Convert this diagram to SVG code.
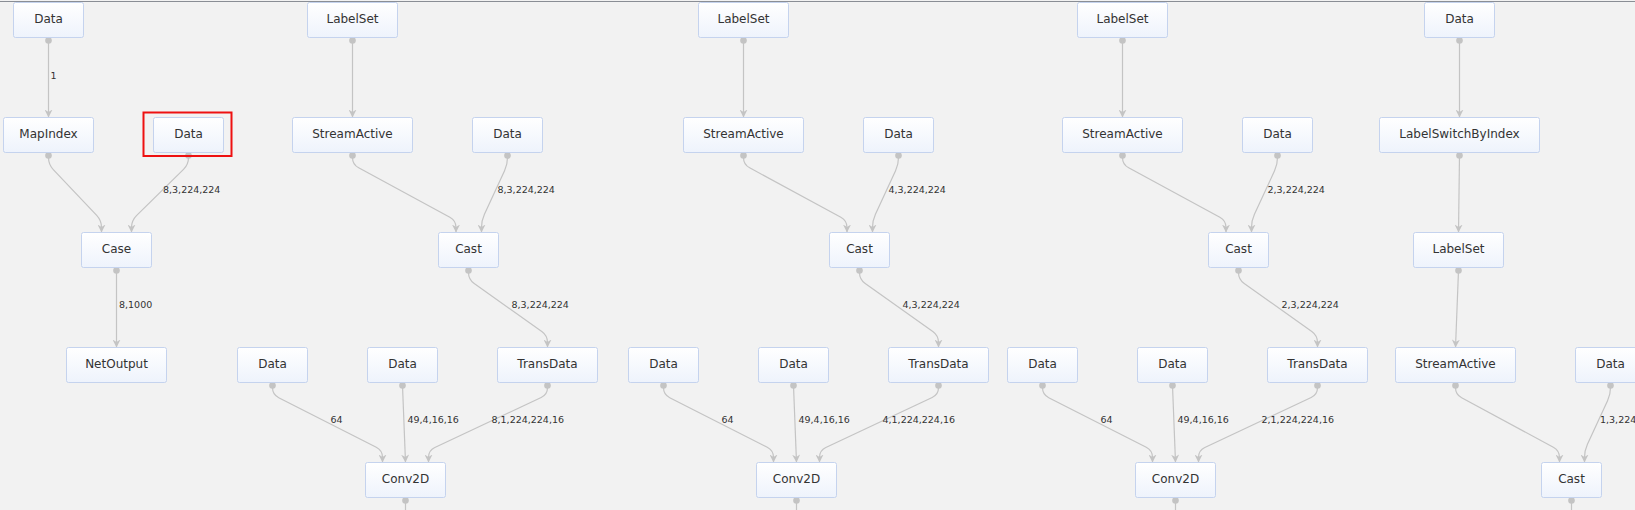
<svg xmlns="http://www.w3.org/2000/svg" width="1635" height="510" viewBox="0 0 1635 510">
<defs>
<linearGradient id="nodeFill" x1="0" y1="0" x2="0" y2="1">
<stop offset="0" stop-color="#ffffff"/>
<stop offset="1" stop-color="#eef3fc"/>
</linearGradient>
<marker id="arrow" viewBox="0 0 10 10" refX="10" refY="5" markerWidth="8" markerHeight="8" markerUnits="userSpaceOnUse" orient="auto">
<path d="M0,0 L10,5 L0,10 L3,5 z" fill="#c4c4c4"/>
</marker>
</defs>
<style>
.node rect{fill:url(#nodeFill);stroke:#c5d3ee;stroke-width:1}
.node text{font-family:"DejaVu Sans",sans-serif;font-size:12px;fill:#333;text-anchor:middle}
.edge{fill:none;stroke:#c4c4c4;stroke-width:1.2;marker-end:url(#arrow)}
.tail{fill:none;stroke:#c4c4c4;stroke-width:1.2}
.dot{fill:#c4c4c4}
.lbl{font-family:"DejaVu Sans",sans-serif;font-size:9.5px;fill:#333}
</style>
<rect x="0" y="0" width="1635" height="510" fill="#f2f2f2"/>
<rect x="0" y="1" width="1635" height="1" fill="#8a8e95"/>

<g id="connectors">
<!-- column A -->
<g id="edges-a">
<circle class="dot" cx="48.5" cy="40.5" r="3.3"/>
<path class="edge" d="M48.5,40.5 L48.5,117.5"/>
<text class="lbl" x="50.5" y="78.5">1</text>
<circle class="dot" cx="48.5" cy="155.5" r="3.3"/>
<path class="edge" d="M48.5,155.5 L48.5,157.5 Q48.5,164.5 53.31,169.58 L96.69,215.42 Q101.5,220.5 101.5,227.5 L101.5,232.5"/>
<circle class="dot" cx="188.5" cy="155.5" r="3.3"/>
<path class="edge" d="M188.5,155.5 L188.5,157.5 Q188.5,164.5 183.51,169.41 L136.49,215.59 Q131.5,220.5 131.5,227.5 L131.5,232.5"/>
<text class="lbl" x="163" y="193.3">8,3,224,224</text>
<circle class="dot" cx="116.5" cy="270.5" r="3.3"/>
<path class="edge" d="M116.5,270.5 L116.5,347.5"/>
<text class="lbl" x="119" y="308">8,1000</text>
</g>
<!-- group B1 -->
<g id="edges-b1">
<circle class="dot" cx="352.5" cy="40.5" r="3.3"/>
<path class="edge" d="M352.5,40.5 L352.5,117.5"/>
<circle class="dot" cx="352.5" cy="155.5" r="3.3"/>
<path class="edge" d="M352.5,155.5 L352.5,157.5 Q352.5,164.5 358.66,167.83 L449.84,217.17 Q456,220.5 456,227.5 L456,232.5"/>
<circle class="dot" cx="507.5" cy="155.5" r="3.3"/>
<path class="edge" d="M507.5,155.5 L507.5,157.5 Q507.5,164.5 504.55,170.85 L484.45,214.15 Q481.5,220.5 481.5,227.5 L481.5,232.5"/>
<text class="lbl" x="497.5" y="193.3">8,3,224,224</text>
<circle class="dot" cx="468.5" cy="270.5" r="3.3"/>
<path class="edge" d="M468.5,270.5 L468.5,272.5 Q468.5,279.5 474.21,283.55 L541.79,331.45 Q547.5,335.5 547.5,342.5 L547.5,347.5"/>
<text class="lbl" x="511.5" y="308">8,3,224,224</text>
<circle class="dot" cx="272.5" cy="385.5" r="3.3"/>
<path class="edge" d="M272.5,385.5 L272.5,387.5 Q272.5,394.5 278.74,397.68 L376.26,447.32 Q382.5,450.5 382.5,457.5 L382.5,462.5"/>
<text class="lbl" x="330.5" y="423.3">64</text>
<circle class="dot" cx="402.5" cy="385.5" r="3.3"/>
<path class="edge" d="M402.5,385.5 L405.5,462.5"/>
<text class="lbl" x="407.5" y="423.3">49,4,16,16</text>
<circle class="dot" cx="547.5" cy="385.5" r="3.3"/>
<path class="edge" d="M547.5,385.5 L547.5,387.5 Q547.5,394.5 541.17,397.48 L434.83,447.52 Q428.5,450.5 428.5,457.5 L428.5,462.5"/>
<text class="lbl" x="491.5" y="423.3">8,1,224,224,16</text>
<circle class="dot" cx="405.5" cy="500.5" r="3.3"/>
<path class="tail" d="M405.5,500.5 L405.5,510"/>
</g>
<!-- group B2 -->
<g id="edges-b2" transform="translate(391,0)">
<circle class="dot" cx="352.5" cy="40.5" r="3.3"/>
<path class="edge" d="M352.5,40.5 L352.5,117.5"/>
<circle class="dot" cx="352.5" cy="155.5" r="3.3"/>
<path class="edge" d="M352.5,155.5 L352.5,157.5 Q352.5,164.5 358.66,167.83 L449.84,217.17 Q456,220.5 456,227.5 L456,232.5"/>
<circle class="dot" cx="507.5" cy="155.5" r="3.3"/>
<path class="edge" d="M507.5,155.5 L507.5,157.5 Q507.5,164.5 504.55,170.85 L484.45,214.15 Q481.5,220.5 481.5,227.5 L481.5,232.5"/>
<text class="lbl" x="497.5" y="193.3">4,3,224,224</text>
<circle class="dot" cx="468.5" cy="270.5" r="3.3"/>
<path class="edge" d="M468.5,270.5 L468.5,272.5 Q468.5,279.5 474.21,283.55 L541.79,331.45 Q547.5,335.5 547.5,342.5 L547.5,347.5"/>
<text class="lbl" x="511.5" y="308">4,3,224,224</text>
<circle class="dot" cx="272.5" cy="385.5" r="3.3"/>
<path class="edge" d="M272.5,385.5 L272.5,387.5 Q272.5,394.5 278.74,397.68 L376.26,447.32 Q382.5,450.5 382.5,457.5 L382.5,462.5"/>
<text class="lbl" x="330.5" y="423.3">64</text>
<circle class="dot" cx="402.5" cy="385.5" r="3.3"/>
<path class="edge" d="M402.5,385.5 L405.5,462.5"/>
<text class="lbl" x="407.5" y="423.3">49,4,16,16</text>
<circle class="dot" cx="547.5" cy="385.5" r="3.3"/>
<path class="edge" d="M547.5,385.5 L547.5,387.5 Q547.5,394.5 541.17,397.48 L434.83,447.52 Q428.5,450.5 428.5,457.5 L428.5,462.5"/>
<text class="lbl" x="491.5" y="423.3">4,1,224,224,16</text>
<circle class="dot" cx="405.5" cy="500.5" r="3.3"/>
<path class="tail" d="M405.5,500.5 L405.5,510"/>
</g>
<!-- group B3 -->
<g id="edges-b3" transform="translate(770,0)">
<circle class="dot" cx="352.5" cy="40.5" r="3.3"/>
<path class="edge" d="M352.5,40.5 L352.5,117.5"/>
<circle class="dot" cx="352.5" cy="155.5" r="3.3"/>
<path class="edge" d="M352.5,155.5 L352.5,157.5 Q352.5,164.5 358.66,167.83 L449.84,217.17 Q456,220.5 456,227.5 L456,232.5"/>
<circle class="dot" cx="507.5" cy="155.5" r="3.3"/>
<path class="edge" d="M507.5,155.5 L507.5,157.5 Q507.5,164.5 504.55,170.85 L484.45,214.15 Q481.5,220.5 481.5,227.5 L481.5,232.5"/>
<text class="lbl" x="497.5" y="193.3">2,3,224,224</text>
<circle class="dot" cx="468.5" cy="270.5" r="3.3"/>
<path class="edge" d="M468.5,270.5 L468.5,272.5 Q468.5,279.5 474.21,283.55 L541.79,331.45 Q547.5,335.5 547.5,342.5 L547.5,347.5"/>
<text class="lbl" x="511.5" y="308">2,3,224,224</text>
<circle class="dot" cx="272.5" cy="385.5" r="3.3"/>
<path class="edge" d="M272.5,385.5 L272.5,387.5 Q272.5,394.5 278.74,397.68 L376.26,447.32 Q382.5,450.5 382.5,457.5 L382.5,462.5"/>
<text class="lbl" x="330.5" y="423.3">64</text>
<circle class="dot" cx="402.5" cy="385.5" r="3.3"/>
<path class="edge" d="M402.5,385.5 L405.5,462.5"/>
<text class="lbl" x="407.5" y="423.3">49,4,16,16</text>
<circle class="dot" cx="547.5" cy="385.5" r="3.3"/>
<path class="edge" d="M547.5,385.5 L547.5,387.5 Q547.5,394.5 541.17,397.48 L434.83,447.52 Q428.5,450.5 428.5,457.5 L428.5,462.5"/>
<text class="lbl" x="491.5" y="423.3">2,1,224,224,16</text>
<circle class="dot" cx="405.5" cy="500.5" r="3.3"/>
<path class="tail" d="M405.5,500.5 L405.5,510"/>
</g>
<!-- group D -->
<g id="edges-d">
<circle class="dot" cx="1459.5" cy="40.5" r="3.3"/>
<path class="edge" d="M1459.5,40.5 L1459.5,117.5"/>
<circle class="dot" cx="1459.5" cy="155.5" r="3.3"/>
<path class="edge" d="M1459.5,155.5 L1458.5,232.5"/>
<circle class="dot" cx="1458.5" cy="270.5" r="3.3"/>
<path class="edge" d="M1458.5,270.5 L1455.5,347.5"/>
<circle class="dot" cx="1455.5" cy="385.5" r="3.3"/>
<path class="edge" d="M1455.5,385.5 L1455.5,387.5 Q1455.5,394.5 1461.66,397.82 L1553.34,447.18 Q1559.5,450.5 1559.5,457.5 L1559.5,462.5"/>
<circle class="dot" cx="1610.5" cy="385.5" r="3.3"/>
<path class="edge" d="M1610.5,385.5 L1610.5,387.5 Q1610.5,394.5 1607.55,400.85 L1587.45,444.15 Q1584.5,450.5 1584.5,457.5 L1584.5,462.5"/>
<text class="lbl" x="1600" y="423.3">1,3,224,224</text>
<circle class="dot" cx="1571.5" cy="500.5" r="3.3"/>
<path class="tail" d="M1571.5,500.5 L1571.5,510"/>
</g>
</g>

<!-- column A nodes -->
<g id="a-data" class="node" transform="translate(13.5,2.5)"><rect width="70" height="35" rx="2"/><text x="35" y="20">Data</text></g>
<g id="a-mapindex" class="node" transform="translate(3.5,117.5)"><rect width="90" height="35" rx="2"/><text x="45" y="20">MapIndex</text></g>
<g id="a-data2" class="node" transform="translate(153.5,117.5)"><rect width="70" height="35" rx="2"/><text x="35" y="20">Data</text></g>
<rect id="a-data2-highlight" x="143.5" y="112.5" width="88" height="43.5" fill="none" stroke="#ee1111" stroke-width="2"/>
<g id="a-case" class="node" transform="translate(81.5,232.5)"><rect width="70" height="35" rx="2"/><text x="35" y="20">Case</text></g>
<g id="a-netoutput" class="node" transform="translate(66.5,347.5)"><rect width="100" height="35" rx="2"/><text x="50" y="20">NetOutput</text></g>

<!-- group B1 nodes -->
<g id="b1-labelset" class="node" transform="translate(307.5,2.5)"><rect width="90" height="35" rx="2"/><text x="45" y="20">LabelSet</text></g>
<g id="b1-streamactive" class="node" transform="translate(292.5,117.5)"><rect width="120" height="35" rx="2"/><text x="60" y="20">StreamActive</text></g>
<g id="b1-data" class="node" transform="translate(472.5,117.5)"><rect width="70" height="35" rx="2"/><text x="35" y="20">Data</text></g>
<g id="b1-cast" class="node" transform="translate(438.5,232.5)"><rect width="60" height="35" rx="2"/><text x="30" y="20">Cast</text></g>
<g id="b1-data-bias" class="node" transform="translate(237.5,347.5)"><rect width="70" height="35" rx="2"/><text x="35" y="20">Data</text></g>
<g id="b1-data-weight" class="node" transform="translate(367.5,347.5)"><rect width="70" height="35" rx="2"/><text x="35" y="20">Data</text></g>
<g id="b1-transdata" class="node" transform="translate(497.5,347.5)"><rect width="100" height="35" rx="2"/><text x="50" y="20">TransData</text></g>
<g id="b1-conv2d" class="node" transform="translate(365.5,462.5)"><rect width="80" height="35" rx="2"/><text x="40" y="20">Conv2D</text></g>

<!-- group B2 nodes -->
<g id="b2-labelset" class="node" transform="translate(698.5,2.5)"><rect width="90" height="35" rx="2"/><text x="45" y="20">LabelSet</text></g>
<g id="b2-streamactive" class="node" transform="translate(683.5,117.5)"><rect width="120" height="35" rx="2"/><text x="60" y="20">StreamActive</text></g>
<g id="b2-data" class="node" transform="translate(863.5,117.5)"><rect width="70" height="35" rx="2"/><text x="35" y="20">Data</text></g>
<g id="b2-cast" class="node" transform="translate(829.5,232.5)"><rect width="60" height="35" rx="2"/><text x="30" y="20">Cast</text></g>
<g id="b2-data-bias" class="node" transform="translate(628.5,347.5)"><rect width="70" height="35" rx="2"/><text x="35" y="20">Data</text></g>
<g id="b2-data-weight" class="node" transform="translate(758.5,347.5)"><rect width="70" height="35" rx="2"/><text x="35" y="20">Data</text></g>
<g id="b2-transdata" class="node" transform="translate(888.5,347.5)"><rect width="100" height="35" rx="2"/><text x="50" y="20">TransData</text></g>
<g id="b2-conv2d" class="node" transform="translate(756.5,462.5)"><rect width="80" height="35" rx="2"/><text x="40" y="20">Conv2D</text></g>

<!-- group B3 nodes -->
<g id="b3-labelset" class="node" transform="translate(1077.5,2.5)"><rect width="90" height="35" rx="2"/><text x="45" y="20">LabelSet</text></g>
<g id="b3-streamactive" class="node" transform="translate(1062.5,117.5)"><rect width="120" height="35" rx="2"/><text x="60" y="20">StreamActive</text></g>
<g id="b3-data" class="node" transform="translate(1242.5,117.5)"><rect width="70" height="35" rx="2"/><text x="35" y="20">Data</text></g>
<g id="b3-cast" class="node" transform="translate(1208.5,232.5)"><rect width="60" height="35" rx="2"/><text x="30" y="20">Cast</text></g>
<g id="b3-data-bias" class="node" transform="translate(1007.5,347.5)"><rect width="70" height="35" rx="2"/><text x="35" y="20">Data</text></g>
<g id="b3-data-weight" class="node" transform="translate(1137.5,347.5)"><rect width="70" height="35" rx="2"/><text x="35" y="20">Data</text></g>
<g id="b3-transdata" class="node" transform="translate(1267.5,347.5)"><rect width="100" height="35" rx="2"/><text x="50" y="20">TransData</text></g>
<g id="b3-conv2d" class="node" transform="translate(1135.5,462.5)"><rect width="80" height="35" rx="2"/><text x="40" y="20">Conv2D</text></g>

<!-- group D nodes -->
<g id="d-data" class="node" transform="translate(1424.5,2.5)"><rect width="70" height="35" rx="2"/><text x="35" y="20">Data</text></g>
<g id="d-labelswitchbyindex" class="node" transform="translate(1379.5,117.5)"><rect width="160" height="35" rx="2"/><text x="80" y="20">LabelSwitchByIndex</text></g>
<g id="d-labelset" class="node" transform="translate(1413.5,232.5)"><rect width="90" height="35" rx="2"/><text x="45" y="20">LabelSet</text></g>
<g id="d-streamactive" class="node" transform="translate(1395.5,347.5)"><rect width="120" height="35" rx="2"/><text x="60" y="20">StreamActive</text></g>
<g id="d-data2" class="node" transform="translate(1575.5,347.5)"><rect width="70" height="35" rx="2"/><text x="35" y="20">Data</text></g>
<g id="d-cast" class="node" transform="translate(1541.5,462.5)"><rect width="60" height="35" rx="2"/><text x="30" y="20">Cast</text></g>
</svg>
